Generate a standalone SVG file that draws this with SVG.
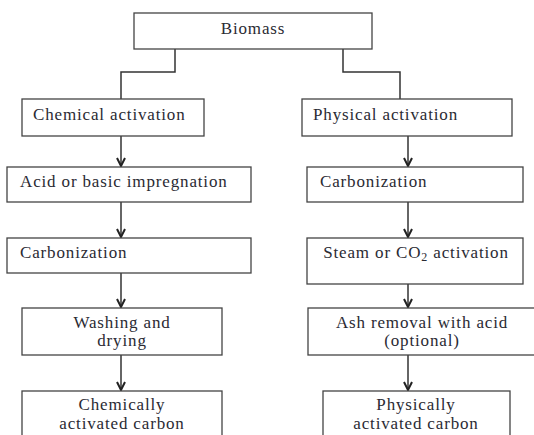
<svg xmlns="http://www.w3.org/2000/svg" width="534" height="435" viewBox="0 0 534 435">
<style>
.box{fill:#fff;stroke:#444;stroke-width:1.3}
.t{font-size:17px;letter-spacing:0.85px;fill:#2a2a33}
.c{text-anchor:middle}
.ln{fill:none;stroke:#333;stroke-width:1.5}
</style>
<defs>
<marker id="ah" viewBox="0 0 10 10" refX="9" refY="5" markerWidth="10" markerHeight="10" markerUnits="userSpaceOnUse" orient="auto">
<path d="M1,1 L9,5 L1,9" fill="none" stroke="#222" stroke-width="2"/>
</marker>
</defs>
<rect width="534" height="435" fill="#fff"/>
<g id="connectors">
<path class="ln" d="M175,49 V72 H121 V99"/>
<path class="ln" d="M343,49 V72 H400 V99"/>
<path class="ln" d="M121,136 V166" marker-end="url(#ah)"/>
<path class="ln" d="M121,202 V237" marker-end="url(#ah)"/>
<path class="ln" d="M121,273 V307" marker-end="url(#ah)"/>
<path class="ln" d="M121,355 V390" marker-end="url(#ah)"/>
<path class="ln" d="M408,136 V166" marker-end="url(#ah)"/>
<path class="ln" d="M408,202 V237" marker-end="url(#ah)"/>
<path class="ln" d="M408,284 V307" marker-end="url(#ah)"/>
<path class="ln" d="M408,355 V390" marker-end="url(#ah)"/>
</g>
<g id="biomass"><rect class="box" x="134" y="13" width="238" height="36"/><text class="t c" font-family="Liberation Serif" x="253" y="34">Biomass</text></g>
<g id="chem"><rect class="box" x="22" y="99" width="182" height="37"/><text class="t" font-family="Liberation Serif" x="33" y="120">Chemical activation</text></g>
<g id="phys"><rect class="box" x="302" y="99" width="210" height="37"/><text class="t" font-family="Liberation Serif" x="313" y="120">Physical activation</text></g>
<g id="acid"><rect class="box" x="7" y="167" width="244" height="35"/><text class="t" font-family="Liberation Serif" x="20" y="187">Acid or basic impregnation</text></g>
<g id="carbL"><rect class="box" x="7" y="238" width="244" height="35"/><text class="t" font-family="Liberation Serif" x="20" y="258">Carbonization</text></g>
<g id="carbR"><rect class="box" x="307" y="167" width="216" height="35"/><text class="t" font-family="Liberation Serif" x="320" y="187">Carbonization</text></g>
<g id="steam"><rect class="box" x="307" y="238" width="216" height="46"/><text class="t c" font-family="Liberation Serif" x="416" y="258">Steam or CO<tspan font-size="12" dy="3">2</tspan><tspan dy="-3"> activation</tspan></text></g>
<g id="wash"><rect class="box" x="22" y="308" width="200" height="47"/><text class="t c" font-family="Liberation Serif" x="122" y="328">Washing and</text><text class="t c" font-family="Liberation Serif" x="122" y="346">drying</text></g>
<g id="ash"><rect class="box" x="308" y="308" width="230" height="47"/><text class="t c" font-family="Liberation Serif" x="422" y="328">Ash removal with acid</text><text class="t c" font-family="Liberation Serif" x="422" y="346">(optional)</text></g>
<g id="chemc"><rect class="box" x="22" y="391" width="200" height="50"/><text class="t c" font-family="Liberation Serif" x="122" y="410">Chemically</text><text class="t c" font-family="Liberation Serif" x="122" y="429">activated carbon</text></g>
<g id="physc"><rect class="box" x="323" y="391" width="187" height="50"/><text class="t c" font-family="Liberation Serif" x="416" y="410">Physically</text><text class="t c" font-family="Liberation Serif" x="416" y="429">activated carbon</text></g>
</svg>
